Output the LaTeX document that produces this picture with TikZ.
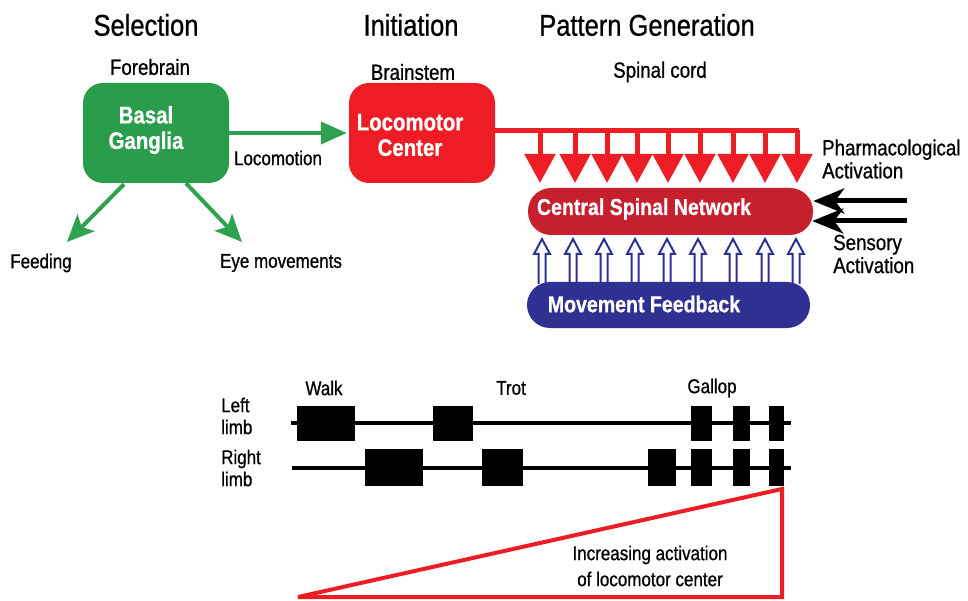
\documentclass[tikz,border=0pt]{standalone}
\usepackage{fontspec}
\setmainfont{Liberation Sans}[FakeStretch=0.85, FakeBold=0.8]
\usetikzlibrary{arrows.meta,calc}
\definecolor{bggreen}{HTML}{2A9D4C}
\definecolor{arrgreen}{HTML}{2FA250}
\definecolor{lcred}{HTML}{EE1C25}
\definecolor{csnred}{HTML}{C61F2E}
\definecolor{mfblue}{HTML}{2E3192}
\begin{document}
\begin{tikzpicture}[x=1pt,y=-1pt,
  title/.style={inner sep=0pt, font=\fontsize{30}{32}\selectfont},
  sub/.style={inner sep=0pt, font=\fontsize{22}{23}\selectfont, align=left},
  lbl/.style={inner sep=0pt, font=\fontsize{20}{22}\selectfont, align=left},
  boxtext/.style={inner sep=0pt, text=white, font=\bfseries\fontsize{24}{25.5}\selectfont, align=center},
  pilltext/.style={inner sep=0pt, text=white, font=\bfseries\fontsize{23}{24}\selectfont},
  roundbox/.style={rounded corners=20pt, minimum width=146pt, minimum height=100pt, inner sep=0pt},
  pill/.style={rounded corners=23pt, minimum height=46pt, inner sep=0pt},
  greenarrow/.style={draw=arrgreen, line width=4pt, -{Triangle[width=22pt,length=26pt]}},
  greendiag/.style={draw=arrgreen, line width=4pt, -{Stealth[width=24pt,length=27pt,inset=6pt]}},
  redstem/.style={draw=lcred, line width=5pt, -{Triangle[width=30pt,length=29pt]}},
  blackarrow/.style={draw=black, line width=5pt, -{Stealth[width=25pt,length=31pt,inset=9pt]}},
  hollow/.style={draw=mfblue, line width=2pt, fill=white, line join=miter},
  limb/.style={line width=4pt},
]
\useasboundingbox (0,0) rectangle (968,601);

% titles
\node[title] (tsel) at (146,25) {Selection};
\node[title] (tini) at (411,25) {Initiation};
\node[title] (tpat) at (647,25) {Pattern Generation};
\node[sub] (tfore) at (150,67) {Forebrain};
\node[sub] (tbrain) at (413,72) {Brainstem};
\node[sub] (tspin) at (660,72) {Spinal cord};

% boxes
\node[roundbox, fill=bggreen] (bg) at (156,133) {};
\node[boxtext] (bgt) at (146,130) {Basal\\Ganglia};
\node[roundbox, fill=lcred] (lc) at (422,133) {};
\node[boxtext] (lct) at (410,135) {Locomotor\\Center};

% green arrows
\draw[greenarrow] (bg.east) -- ($(lc.west)+(-2,0)$);
\node[lbl] (tloco) at (278,158) {Locomotion};
\coordinate (feedtip) at (67,242);
\coordinate (eyetip) at (242,242);
\draw[greendiag] ($(bg.south)+(-32,1)$) -- (feedtip);
\draw[greendiag] ($(bg.south)+(30,0)$) -- (eyetip);
\node[lbl] (tfeed) at (41,263) {Feeding};
\node[lbl] (teye) at (281,263) {Eye movements};

% spinal network boxes
\node[pill, fill=csnred, minimum width=285pt, minimum height=47pt] (csn) at (670.5,211.5) {};
\node[pilltext] (csnt) at (644,209) {Central Spinal Network};

% red bus and arrows
\coordinate (busR) at (799,130.5);
\draw[draw=lcred, line width=5pt] (lc.east |- busR) -- (busR);
\foreach \x [count=\i] in {540,575,607,637,668,700,733,765,797} {
  \coordinate (rt\i) at (\x,130.5);
  \coordinate (rh\i) at (\x,183);
  \draw[redstem] (rt\i) -- (rh\i);
}

% hollow blue arrows
\foreach \x in {542,573,604,635,667,698,733,765,796} {
  \draw[hollow] (\x-3.5,284) -- (\x-3.5,254) -- (\x-8,254) -- (\x,239) -- (\x+8,254) -- (\x+3.5,254) -- (\x+3.5,284);
}
\node[pill, fill=mfblue, minimum width=283pt] (mf) at (668.5,305) {};
\node[pilltext] (mft) at (644,304) {Movement Feedback};

% side labels and black arrows
\node[sub, anchor=west] (tpharm) at (822,159) {Pharmacological\\Activation};
\coordinate (s1) at (907,201);
\coordinate (s2) at (907,221);
\draw[blackarrow] (s1) -- (csn.east |- s1);
\draw[blackarrow] (s2) -- ($(csn.east |- s2)+(-1,0)$);
\node[sub, anchor=west] (tsens) at (833,254) {Sensory\\Activation};

% gait diagram
\node[lbl] (twalk) at (324,388) {Walk};
\node[lbl] (ttrot) at (511,388) {Trot};
\node[lbl] (tgal) at (712,388) {Gallop};
\node[lbl, anchor=west] (tleft) at (221,416) {Left\\limb};
\node[lbl, anchor=west] (tright) at (221,468) {Right\\limb};

\draw[limb] (291,423) -- (791,423);
\draw[limb] (292,468) -- (791,468);
\foreach \a/\b in {297/355, 433/473, 691/712, 733/750, 769/784} {
  \fill (\a,406) rectangle (\b,441);
}
\foreach \a/\b in {365/423, 482/523, 648/676, 691/712, 733/750, 769/784} {
  \fill (\a,449) rectangle (\b,486);
}

% activation triangle
\draw[draw=lcred, line width=4pt, line join=miter, miter limit=3] (298,597) -- (782,489) -- (782,597) -- cycle;
\node[lbl, align=center, font=\fontsize{20}{26}\selectfont] (tinc) at (650,566) {Increasing activation\\of locomotor center};
\end{tikzpicture}
\end{document}
